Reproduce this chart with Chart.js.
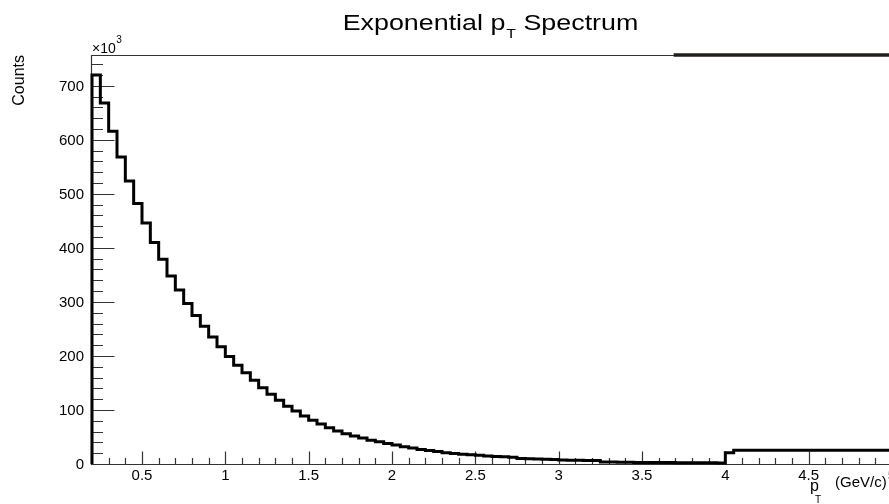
<!DOCTYPE html>
<html>
<head>
<meta charset="utf-8">
<script src="https://cdn.jsdelivr.net/npm/chart.js@4.4.1/dist/chart.umd.min.js"></script>
<style>
    html, body { margin: 0; padding: 0; background: #fff; overflow: hidden; }
    #wrap { width: 980px; height: 504px; }
</style>
</head>
<body>
<div id="wrap"><canvas id="myChart" width="980" height="504"></canvas></div>
<script>
// histogram definition (TH1 style): 96 bins of 0.05 GeV/c starting at 0.2
const binLow = 0.2;
const binWidth = 0.05;

// bin contents, in units of 10^3 counts
const counts = [
    720, 668, 616, 568, 524, 482, 446, 410, 379, 348,
    322, 297, 275, 255, 235, 217, 199, 183, 169, 155,
    141, 129, 118, 107, 98, 89, 81, 74, 67, 61,
    56, 52, 48, 44, 41, 38, 35, 32, 29.5, 27,
    25, 23, 21, 19.5, 18, 17, 16, 14.8, 13.8, 13.2,
    12.5, 10, 9.5, 9.2, 8.8, 8.5, 7.2, 7, 6.8, 6.6,
    6.4, 3.8, 3.6, 3.4, 3.2, 3.0, 2.9, 2.8, 2.7, 2.6,
    2.5, 2.4, 2.3, 2.2, 2.1, 2.0, 21, 25.5, 25.5, 25.5,
    25.5, 25.5, 25.5, 25.5, 25.5, 25.5, 25.5, 25.5, 25.5, 25.5,
    25.5, 25.5, 25.5, 25.5, 25.5, 25.5
];

// thick segment lying on the top frame, right side
const topBandX = [3.69, 5.0];

const xRange = [0.2, 5.0];
const yRange = [0, 757];

const xMajorTicks = [0.5, 1, 1.5, 2, 2.5, 3, 3.5, 4, 4.5, 5];
const xTickLabels = ['0.5', '1', '1.5', '2', '2.5', '3', '3.5', '4', '4.5', '5'];
const yMajorTicks = [0, 100, 200, 300, 400, 500, 600, 700];
const yTickLabels = ['0', '100', '200', '300', '400', '500', '600', '700'];
const xMinorStep = 0.1;
const yMinorStep = 20;

function buildHistPoints() {
    const pts = [{ x: binLow, y: 0 }];
    counts.forEach((c, i) => {
        pts.push({ x: Math.round((binLow + i * binWidth) * 1000) / 1000, y: c });
    });
    const end = Math.round((binLow + counts.length * binWidth) * 1000) / 1000;
    pts.push({ x: end, y: counts[counts.length - 1] });
    return pts;
}

const FONT = '"Liberation Sans", Arial, Helvetica, sans-serif';

function txt(ctx, s, x, y, size, align, baseline, sx) {
    ctx.save();
    ctx.font = size + 'px ' + FONT;
    ctx.fillStyle = '#000';
    ctx.textAlign = align || 'left';
    ctx.textBaseline = baseline || 'alphabetic';
    ctx.translate(x, y);
    ctx.scale(sx || 1, 1);
    ctx.fillText(s, 0, 0);
    ctx.restore();
}

function textWidth(ctx, s, size, sx) {
    ctx.save();
    ctx.font = size + 'px ' + FONT;
    const w = ctx.measureText(s).width * (sx || 1);
    ctx.restore();
    return w;
}

// ROOT-like frame: ticks drawn inside the frame
const rootFrame = {
    id: 'rootFrame',
    beforeDatasetsDraw(chart) {
        const ctx = chart.ctx;
        const a = chart.chartArea;
        const xs = chart.scales.x, ys = chart.scales.y;
        const left = Math.round(a.left) - 0.5;
        const bottom = Math.round(a.bottom) + 0.5;
        ctx.save();
        ctx.strokeStyle = '#333';
        ctx.lineWidth = 1.2;
        ctx.beginPath();
        // frame
        ctx.moveTo(left, Math.round(a.top) + 0.5);
        ctx.lineTo(a.right + 2, Math.round(a.top) + 0.5);
        ctx.moveTo(left, a.top);
        ctx.lineTo(left, bottom);
        ctx.lineTo(a.right + 2, bottom);

        // x ticks
        for (let v = xRange[0] + xMinorStep; v <= xRange[1] + 1e-9; v += xMinorStep) {
            const vv = Math.round(v * 1000) / 1000;
            const px = Math.round(xs.getPixelForValue(vv)) + 0.5;
            const major = xMajorTicks.some(t => Math.abs(t - vv) < 1e-6);
            ctx.moveTo(px, bottom);
            ctx.lineTo(px, bottom - (major ? 13 : 6.5));
        }
        // y ticks
        for (let v = yRange[0]; v <= yRange[1]; v += yMinorStep) {
            const py = Math.round(ys.getPixelForValue(v)) + 0.5;
            const major = yMajorTicks.indexOf(v) >= 0;
            ctx.moveTo(left, py);
            ctx.lineTo(left + (major ? 23 : 11.5), py);
        }
        ctx.stroke();
        ctx.restore();
    },
    afterDraw(chart) {
        const ctx = chart.ctx;
        const a = chart.chartArea;
        const xs = chart.scales.x, ys = chart.scales.y;

        // tick labels
        xMajorTicks.forEach((t, i) => {
            txt(ctx, xTickLabels[i], xs.getPixelForValue(t), 480, 15, 'center');
        });
        yMajorTicks.forEach((t, i) => {
            txt(ctx, yTickLabels[i], 84, ys.getPixelForValue(t) + 1, 15, 'right', 'middle');
        });

        // exponent above the y axis
        txt(ctx, '\u00d710', a.left, 53, 14, 'left');
        txt(ctx, '3', a.left + textWidth(ctx, '\u00d710', 14) + 0.5, 43, 10, 'left');

        // y axis title
        ctx.save();
        ctx.translate(24, a.top);
        ctx.rotate(-Math.PI / 2);
        ctx.font = '16px ' + FONT;
        ctx.fillStyle = '#000';
        ctx.textAlign = 'right';
        ctx.fillText('Counts', 0, 0);
        ctx.restore();

        // x axis title
        txt(ctx, 'p', 810, 491, 16, 'left');
        txt(ctx, 'T', 815, 503, 10, 'left');
        txt(ctx, '(GeV/c)', 835, 487, 15, 'left');

        // main title with subscript
        const sx = 1.22;
        const w1 = textWidth(ctx, 'Exponential p', 22, sx);
        const w2 = textWidth(ctx, 'T', 13, sx);
        const w3 = textWidth(ctx, ' Spectrum', 22, sx);
        const x0 = chart.width / 2 - (w1 + w2 + w3) / 2;
        txt(ctx, 'Exponential p', x0, 30, 22, 'left', 'alphabetic', sx);
        txt(ctx, 'T', x0 + w1 + 1, 38, 13, 'left', 'alphabetic', sx);
        txt(ctx, ' Spectrum', x0 + w1 + w2 + 1, 30, 22, 'left', 'alphabetic', sx);
    }
};

const ctx = document.getElementById('myChart').getContext('2d');

new Chart(ctx, {
    type: 'line',
    data: {
        datasets: [
            {
                label: 'pT',
                data: buildHistPoints(),
                stepped: true,
                borderColor: '#000',
                borderWidth: 3,
                borderJoinStyle: 'miter',
                pointRadius: 0,
                fill: false,
                clip: false
            },
            {
                label: 'top band',
                data: topBandX.map(x => ({ x: x, y: yRange[1] })),
                borderColor: '#231f1c',
                borderWidth: 3.5,
                pointRadius: 0,
                fill: false,
                clip: false
            }
        ]
    },
    options: {
        responsive: false,
        devicePixelRatio: 1,
        animation: false,
        layout: {
            padding: { left: 92, right: 88, top: 55, bottom: 40 }
        },
        scales: {
            x: { type: 'linear', min: xRange[0], max: xRange[1], display: false },
            y: { type: 'linear', min: yRange[0], max: yRange[1], display: false }
        },
        plugins: {
            legend: { display: false },
            title: { display: false },
            tooltip: { enabled: false }
        }
    },
    plugins: [rootFrame]
});
</script>
</body>
</html>
